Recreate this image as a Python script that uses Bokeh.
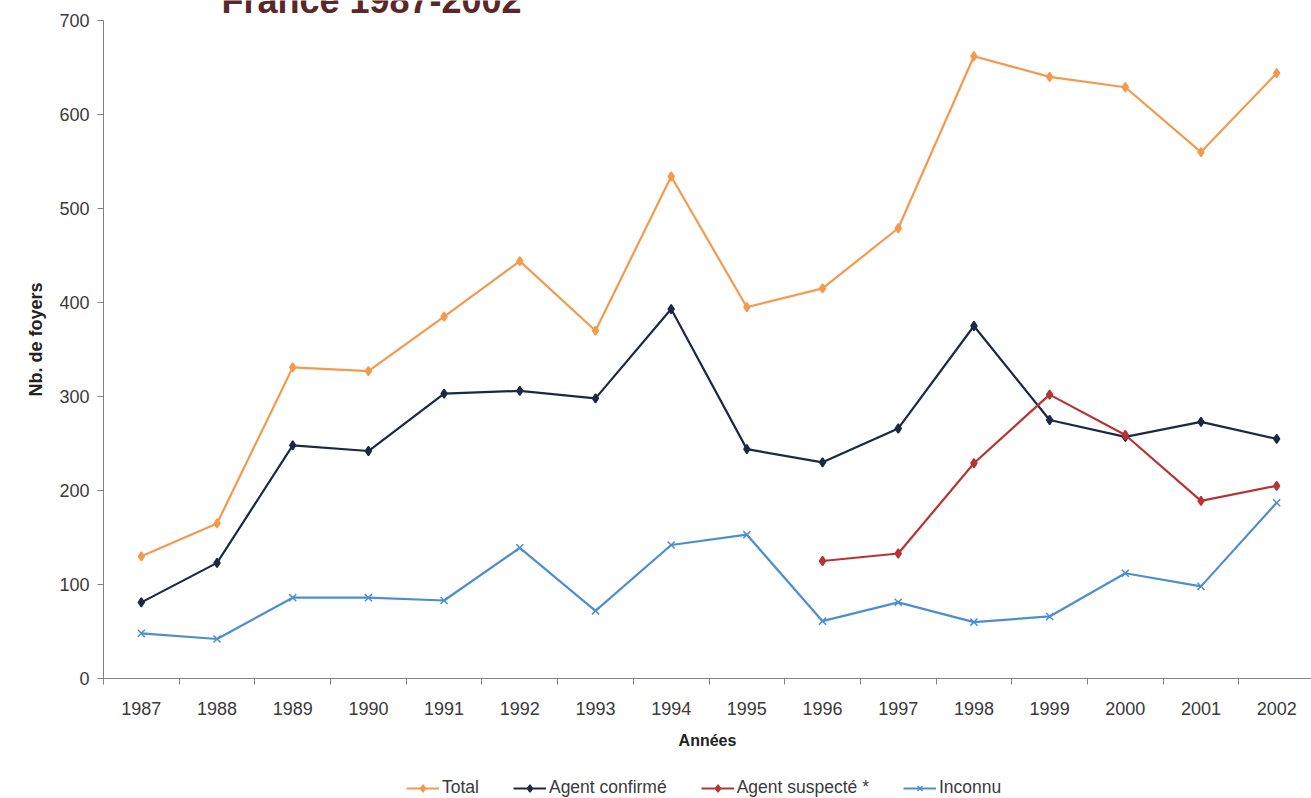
from bokeh.plotting import figure
from bokeh.layouts import column
from bokeh.models import Range1d, FixedTicker, Legend, LegendItem, Label, ColumnDataSource
from bokeh.embed import file_html
from bokeh.resources import INLINE

years = [1987, 1988, 1989, 1990, 1991, 1992, 1993, 1994, 1995, 1996, 1997, 1998, 1999, 2000, 2001, 2002]
total = [130, 165, 331, 327, 385, 444, 370, 534, 395, 415, 479, 662, 640, 629, 560, 644]
agent_confirme = [81, 123, 248, 242, 303, 306, 298, 393, 244, 230, 266, 375, 275, 257, 273, 255]
suspect_years = [1996, 1997, 1998, 1999, 2000, 2001, 2002]
agent_suspecte = [125, 133, 229, 302, 259, 189, 205]
inconnu = [48, 42, 86, 86, 83, 139, 72, 142, 153, 61, 81, 60, 66, 112, 98, 187]
y_ticks = [0, 100, 200, 300, 400, 500, 600, 700]

FONT = "Liberation Sans"
TXT = "#3a3a3a"

# frame spans page y 0..678; the 700 tick sits at y=20
p = figure(width=1311, height=768, output_backend="svg", toolbar_location=None,
           x_range=Range1d(years[0] - 0.5, years[-1] + 0.46),
           y_range=Range1d(0, 700 * 678 / 658),
           min_border_left=103, min_border_right=0, min_border_top=0, min_border_bottom=90)
p.outline_line_color = None
p.grid.visible = False

styles = [
    ("Total", years, total, "#F39A4E", "diamond", 9),
    ("Agent confirmé", years, agent_confirme, "#1B2945", "diamond", 9),
    ("Agent suspecté *", suspect_years, agent_suspecte, "#B83434", "diamond", 9),
    ("Inconnu", years, inconnu, "#4C8FCE", "x", 10),
]

# legend strip (separate figure so the legend is not clipped by the main frame)
pl = figure(width=1311, height=30, output_backend="svg", toolbar_location=None,
            x_range=Range1d(0, 1), y_range=Range1d(0, 1),
            min_border_left=0, min_border_right=0, min_border_top=0, min_border_bottom=0)
pl.outline_line_color = None
pl.axis.visible = False
pl.grid.visible = False

items = []
for name, xs, ys, col, mk, sz in styles:
    src = ColumnDataSource(dict(x=xs, y=ys))
    p.line("x", "y", source=src, line_color=col, line_width=2.2)
    p.scatter("x", "y", source=src, marker=mk, size=sz, fill_color=col, line_color=col, line_width=1.5)
    # same series in the legend strip; out of its view range, only the legend swatches show
    l1 = pl.line("x", "y", source=src, line_color=col, line_width=2.2)
    l2 = pl.scatter("x", "y", source=src, marker=mk, size=sz, fill_color=col, line_color=col, line_width=1.5)
    items.append(LegendItem(label=name, renderers=[l1, l2]))

# x axis
xa = p.xaxis[0]
bounds = [y - 0.5 for y in years] + [years[-1] + 0.5]
xa.ticker = FixedTicker(ticks=years, minor_ticks=bounds)
xa.major_label_overrides = {y: str(y) for y in years}
xa.major_tick_out = 0
xa.major_tick_in = 0
xa.minor_tick_out = 6
xa.minor_tick_in = 0
xa.minor_tick_line_color = "#808080"
xa.axis_line_color = "#808080"
xa.major_label_text_font = FONT
xa.major_label_text_font_size = "18px"
xa.major_label_text_color = TXT
xa.major_label_standoff = 17
xa.axis_label = "Années"
xa.axis_label_text_font = FONT
xa.axis_label_text_font_style = "bold"
xa.axis_label_text_font_size = "16px"
xa.axis_label_text_color = "#222222"
xa.axis_label_standoff = 14

ya = p.yaxis[0]
ya.ticker = FixedTicker(ticks=y_ticks)
ya.bounds = (y_ticks[0], y_ticks[-1])
ya.minor_tick_out = 0
ya.minor_tick_in = 0
ya.major_tick_out = 6
ya.major_tick_in = 0
ya.major_tick_line_color = "#808080"
ya.axis_line_color = "#808080"
ya.major_label_text_font = FONT
ya.major_label_text_font_size = "18px"
ya.major_label_text_color = TXT
ya.major_label_standoff = 8
ya.axis_label = "Nb. de foyers"
ya.axis_label_text_font = FONT
ya.axis_label_text_font_style = "bold"
ya.axis_label_text_font_size = "18px"
ya.axis_label_text_color = "#222222"
ya.axis_label_standoff = 10

legend = Legend(items=items, orientation="horizontal", location=(303, 0),
                glyph_width=33, glyph_height=18, label_standoff=3, spacing=34,
                padding=0, margin=0, border_line_color=None, background_fill_alpha=0,
                label_text_font=FONT, label_text_font_size="17.5px", label_text_color=TXT,
                label_height=20)
pl.add_layout(legend, "center")

# the reference shows this title cropped by the top edge of the picture
title = Label(x=268, y=678, x_units="screen", y_units="screen", text="France 1987-2002",
              text_font=FONT, text_font_style="bold", text_font_size="36px",
              text_color="#5A2828", text_align="center", text_baseline="alphabetic")
p.add_layout(title)

layout = column(p, pl, spacing=0)
open("out.html", "w").write(file_html(layout, INLINE))
